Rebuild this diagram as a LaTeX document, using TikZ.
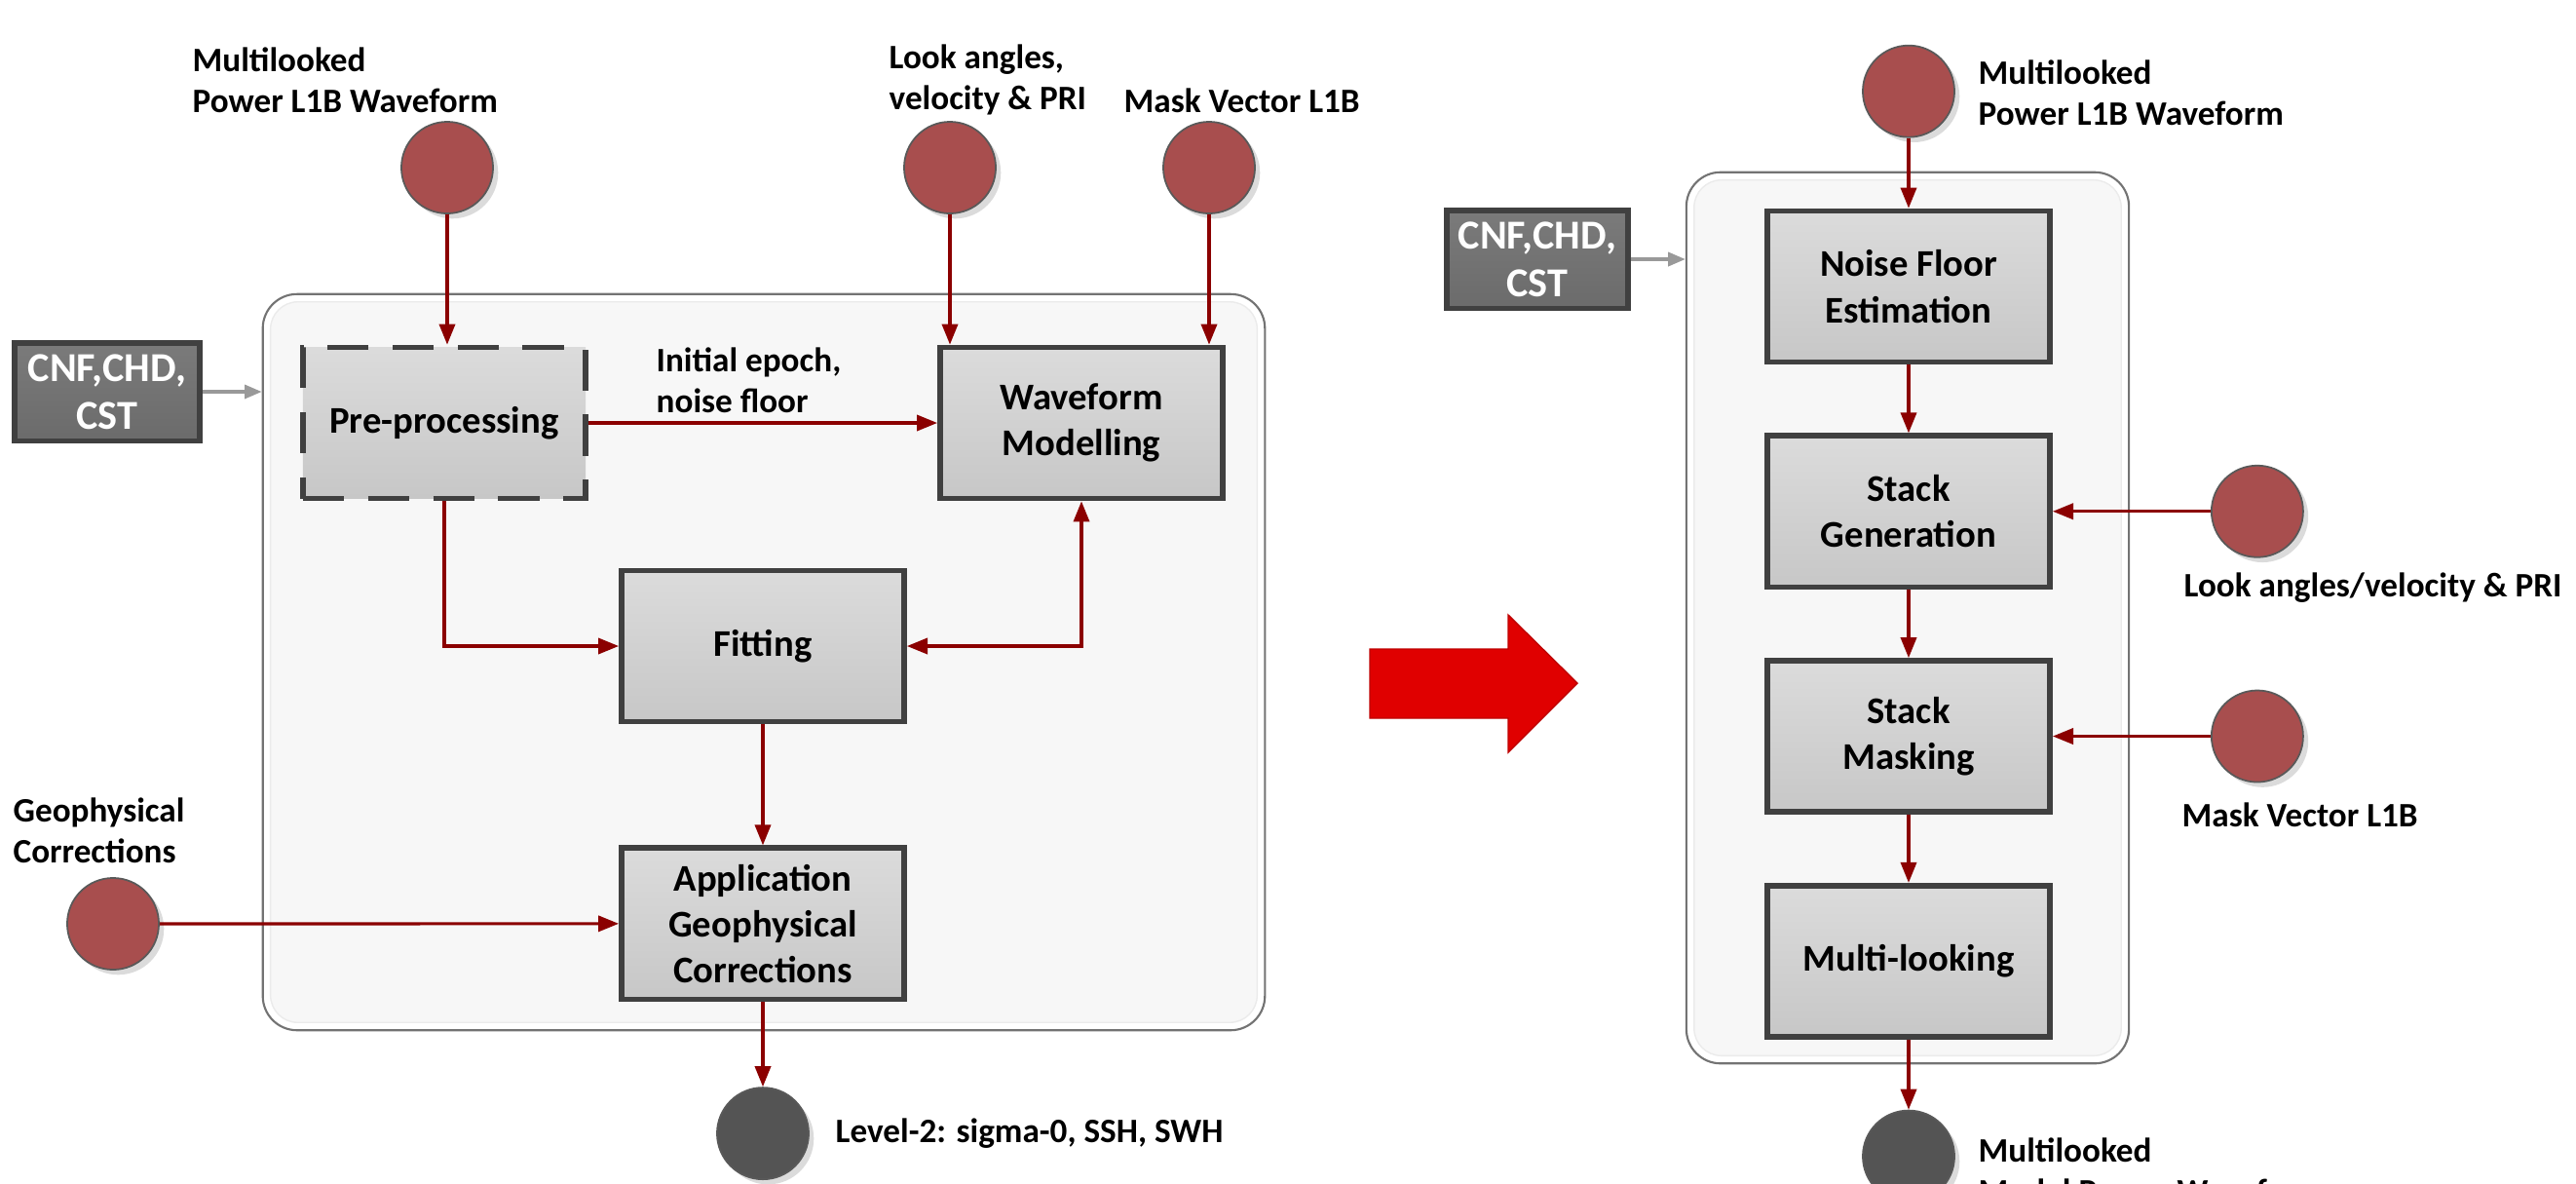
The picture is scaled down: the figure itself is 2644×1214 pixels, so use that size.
\documentclass[tikz,border=0pt]{standalone}
\usepackage{fontspec}
\setmainfont{Carlito}
\usetikzlibrary{positioning,arrows.meta,shadows}

\definecolor{linkred}{RGB}{139,0,0}
\definecolor{boxline}{RGB}{64,64,64}
\definecolor{srcred}{RGB}{168,78,78}
\definecolor{bigred}{RGB}{224,0,0}

\begin{document}
\begin{tikzpicture}[x=0.01cm,y=-0.01cm,
  >={Triangle[length=6pt,width=4.6pt]},
  flow/.style={->,draw=linkred,line width=0.9pt},
  cfg link/.style={-{Triangle[length=5pt,width=4pt]},draw=black!40,line width=0.9pt},
  proc box/.style={rectangle,draw=boxline,line width=1.6pt,top color=black!14,bottom color=black!22,
    minimum width=2.9cm,minimum height=1.55cm,align=center,font=\fontsize{11}{13.4}\selectfont\bfseries},
  cfg box/.style={rectangle,draw=boxline,line width=1.6pt,top color=black!52,bottom color=black!58,
    text=white,align=center,font=\fontsize{12}{14}\selectfont\bfseries},
  source dot/.style={circle,draw=black!65,line width=0.5pt,fill=srcred,minimum size=0.94cm,inner sep=0pt,
    drop shadow={shadow xshift=1.5pt,shadow yshift=-1.5pt,fill=black!20,opacity=0.7}},
  sink dot/.style={source dot,fill=black!67},
  label text/.style={align=left,anchor=west,inner sep=0pt,font=\fontsize{10}{12}\selectfont\bfseries},
  panel/.style={rectangle,rounded corners=10pt,draw=black!55,line width=0.6pt,fill=white}]

\useasboundingbox (0,0) rectangle (2644,1214);

% ---- retracking chain (left) ----
\node[panel,minimum width=10.28cm,minimum height=7.55cm] (leftpanel) at (784,679.5) {};
\draw[black!8,fill=black!3,rounded corners=8pt]
  ([shift={(9,9)}]leftpanel.north west) rectangle ([shift={(-9,-9)}]leftpanel.south east);

\node[cfg box,minimum width=1.9cm,minimum height=1.0cm] (cnfL) at (110,402) {CNF,CHD,\\CST};

\node[proc box,dash pattern=on 12pt off 7pt] (pre) at (456,434) {Pre-processing};
\node[proc box,right=3.58cm of pre] (wave) {Waveform\\Modelling};
\node[proc box] (fit) at (783,663) {Fitting};
\node[proc box,below=1.24cm of fit] (appl) {Application\\Geophysical\\Corrections};

\node[source dot] (mlL) at (459,172) {};
\node[source dot] (lookL) at (975,172) {};
\node[source dot] (maskL) at (1241,172) {};
\node[source dot] (geo) at (116,948) {};
\node[sink dot,below=0.87cm of appl] (lvl2) {};

\node[label text] (mlLtxt) at (197,82) {Multilooked\\Power L1B Waveform};
\node[label text] (lookLtxt) at (912,82) {Look angles,\\velocity \& PRI};
\node[label text] (maskLtxt) at (1153,103) {Mask Vector L1B};
\node[label text] (epoch) at (673,390) {Initial epoch,\\noise floor};
\node[label text] (geotxt) at (13,852) {Geophysical\\Corrections};
\node[label text] (lvl2txt) at (857,1163) {Level-2: sigma-0, SSH, SWH};

\draw[cfg link] (cnfL) -- (cnfL -| leftpanel.west);
\draw[flow] (mlL) -- (mlL |- pre.north);
\draw[flow] (lookL) -- (lookL |- wave.north);
\draw[flow] (maskL) -- (maskL |- wave.north);
\draw[flow] (pre) -- (wave);
\draw[flow] (pre.south) |- (fit.west);
\draw[flow,<->] (fit.east) -| (wave.south);
\draw[flow] (fit) -- (appl);
\draw[flow] (geo) -- (appl);
\draw[flow] (appl) -- (lvl2);

% ---- big arrow in between ----
\filldraw[fill=bigred,draw=bigred!85!black,line width=0.4pt]
  (1406,666) -- (1548,666) -- (1548,631) -- (1619,701) -- (1548,772) -- (1548,737) -- (1406,737) -- cycle;

% ---- multilooking chain (right) ----
\node[panel,minimum width=4.54cm,minimum height=9.14cm] (rightpanel) at (1958,634) {};
\draw[black!8,fill=black!3,rounded corners=8pt]
  ([shift={(9,9)}]rightpanel.north west) rectangle ([shift={(-9,-9)}]rightpanel.south east);

\node[cfg box,minimum width=1.84cm,minimum height=0.95cm] (cnfR) at (1578,266) {CNF,CHD,\\CST};

\node[proc box] (noise) at (1959,294) {Noise Floor\\Estimation};
\node[proc box,below=0.70cm of noise] (sgen) {Stack\\Generation};
\node[proc box,below=0.70cm of sgen] (smask) {Stack\\Masking};
\node[proc box,below=0.70cm of smask] (multi) {Multi-looking};

\node[source dot,above=0.72cm of noise] (mlR) {};
\node[source dot,right=1.62cm of sgen] (lookR) {};
\node[source dot,right=1.62cm of smask] (maskR) {};
\node[sink dot,below=0.72cm of multi] (outR) {};

\node[label text] (mlRtxt) at (2030,95) {Multilooked\\Power L1B Waveform};
\node[label text] (lookRtxt) at (2241,603) {Look angles/velocity \& PRI};
\node[label text] (maskRtxt) at (2239,836) {Mask Vector L1B};
\node[label text] (outRtxt) at (2030,1201) {Multilooked\\Model Power Waveform};

\draw[cfg link] (cnfR) -- (cnfR -| rightpanel.west);
\draw[flow] (mlR) -- (noise);
\draw[flow] (noise) -- (sgen);
\draw[flow] (sgen) -- (smask);
\draw[flow] (smask) -- (multi);
\draw[flow] (multi) -- (outR);
\draw[flow] (lookR) -- (sgen);
\draw[flow] (maskR) -- (smask);
\end{tikzpicture}
\end{document}
